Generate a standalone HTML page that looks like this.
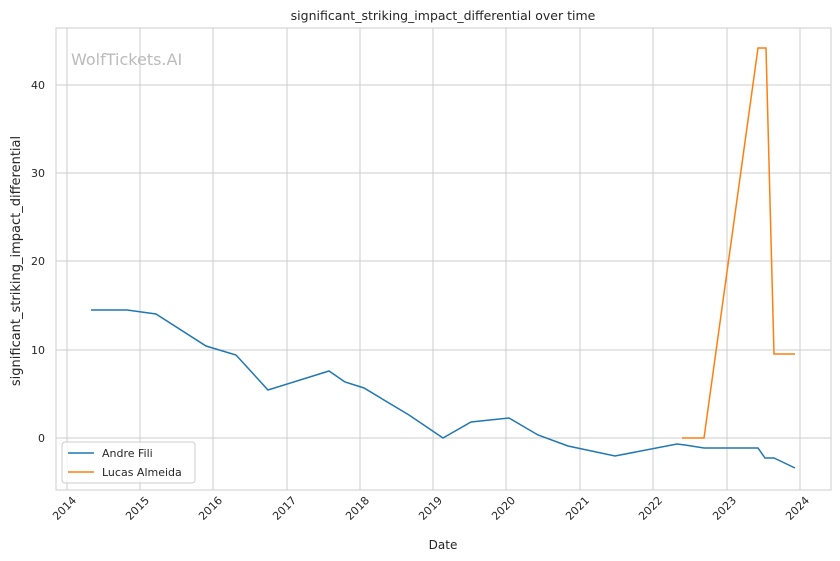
<!DOCTYPE html>
<html><head><meta charset="utf-8"><style>body{margin:0;background:#fff}svg{display:block;font-family:"DejaVu Sans","Liberation Sans",sans-serif}</style></head><body>
<svg width="840" height="561" viewBox="0 0 840 561">
<rect x="56" y="28" width="775" height="462" fill="#fff" stroke="#ccc" stroke-width="1"/>
<g stroke="#ccc" stroke-width="1">
<line x1="67" y1="28" x2="67" y2="490"/><line x1="140" y1="28" x2="140" y2="490"/><line x1="213" y1="28" x2="213" y2="490"/><line x1="287" y1="28" x2="287" y2="490"/><line x1="360" y1="28" x2="360" y2="490"/><line x1="433" y1="28" x2="433" y2="490"/><line x1="506" y1="28" x2="506" y2="490"/><line x1="580" y1="28" x2="580" y2="490"/><line x1="653" y1="28" x2="653" y2="490"/><line x1="727" y1="28" x2="727" y2="490"/><line x1="800" y1="28" x2="800" y2="490"/>
<line x1="56" y1="85" x2="831" y2="85"/><line x1="56" y1="173" x2="831" y2="173"/><line x1="56" y1="261" x2="831" y2="261"/><line x1="56" y1="350" x2="831" y2="350"/><line x1="56" y1="438" x2="831" y2="438"/>
</g>
<g font-size="11" fill="#262626" text-anchor="end">
<text x="45" y="89">40</text><text x="45" y="177">30</text><text x="45" y="265">20</text><text x="45" y="354">10</text><text x="45" y="442">0</text>
</g>
<g font-size="11" fill="#262626" text-anchor="end">
<text transform="translate(77,501) rotate(-45)">2014</text><text transform="translate(150,501) rotate(-45)">2015</text><text transform="translate(223,501) rotate(-45)">2016</text><text transform="translate(297,501) rotate(-45)">2017</text><text transform="translate(370,501) rotate(-45)">2018</text><text transform="translate(443,501) rotate(-45)">2019</text><text transform="translate(516,501) rotate(-45)">2020</text><text transform="translate(590,501) rotate(-45)">2021</text><text transform="translate(663,501) rotate(-45)">2022</text><text transform="translate(737,501) rotate(-45)">2023</text><text transform="translate(810,501) rotate(-45)">2024</text>
</g>
<text x="443" y="549" font-size="12" fill="#262626" text-anchor="middle">Date</text>
<text transform="translate(20,261) rotate(-90)" font-size="13" fill="#262626" text-anchor="middle">significant_striking_impact_differential</text>
<text x="443" y="20" font-size="12.5" fill="#262626" text-anchor="middle">significant_striking_impact_differential over time</text>
<text x="71" y="65" font-size="16" fill="#bbb">WolfTickets.AI</text>
<polyline fill="none" stroke="#1f77b4" stroke-width="1.5" points="91,310 127,310 156,314 206,346 236,355 268,390 329,371 345,382 364,388 409,415 443,438 471,422 509,418 538,435 568,446 615,456 677,444 685,445 704,448 758,448 765,458 774,458 795,468"/>
<polyline fill="none" stroke="#ff7f0e" stroke-width="1.5" points="682,438 704,438 758,48 766,48 774,354 795,354"/>
<rect x="62" y="442" width="133" height="41" fill="#fff" fill-opacity="0.8" stroke="#ccc" rx="3"/>
<line x1="68" y1="453" x2="94" y2="453" stroke="#1f77b4" stroke-width="1.5"/>
<line x1="68" y1="472" x2="94" y2="472" stroke="#ff7f0e" stroke-width="1.5"/>
<g font-size="11" fill="#262626"><text x="102" y="457">Andre Fili</text><text x="102" y="476">Lucas Almeida</text></g>
</svg>
</body></html>
